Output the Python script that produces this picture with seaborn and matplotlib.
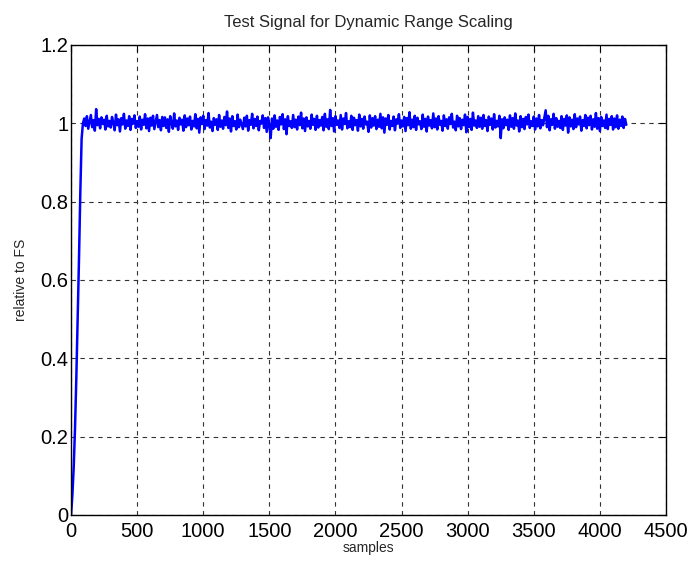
import numpy as np
import pandas as pd
import seaborn as sns
import matplotlib.pyplot as plt
from matplotlib.ticker import FormatStrFormatter

# ramp-up part of the signal (samples 0..90)
ramp_samples = [0, 10, 20, 30, 40, 50, 60, 70, 80, 90]
ramp_values = [0.0, 0.05, 0.12, 0.22, 0.35, 0.50, 0.65, 0.82, 0.96, 1.0]

# steady part, read every 10 samples from 100 to 4200
steady_values = [
    1.012, 0.993, 1.018, 0.986, 1.004, 1.021, 0.990, 1.008, 0.981, 1.036, 0.995, 1.011, 0.987, 1.015, 0.998, 1.009, 0.984, 1.019, 0.992, 1.006,
    0.989, 1.016, 1.001, 0.982, 1.022, 0.995, 1.010, 0.979, 1.013, 0.997, 1.024, 0.986, 1.007, 0.993, 1.018, 0.983, 1.011, 0.999, 1.020, 0.988,
    1.005, 0.991, 1.017, 0.984, 1.009, 0.996, 1.023, 0.987, 1.012, 0.980, 1.014, 0.994, 1.019, 0.985, 1.003, 1.021, 0.990, 1.008, 0.982, 1.016,
    0.993, 1.015, 0.988, 1.010, 0.978, 1.018, 1.001, 0.986, 1.025, 0.992, 1.007, 0.983, 1.014, 0.997, 1.009, 0.981, 1.020, 0.990, 1.012, 0.995,
    1.017, 0.984, 1.006, 0.992, 1.023, 0.987, 1.011, 0.976, 1.015, 0.998, 1.019, 0.985, 1.008, 0.994, 1.026, 0.989, 1.004, 0.980, 1.013, 0.996,
    1.010, 0.983, 1.021, 0.991, 1.007, 0.986, 1.016, 0.995, 1.030, 0.988, 1.012, 0.979, 1.018, 0.993, 1.005, 0.984, 1.022, 0.990, 1.009, 0.997,
    0.985, 1.014, 0.992, 1.019, 0.981, 1.008, 0.996, 1.024, 0.987, 1.011, 0.993, 1.017, 0.982, 1.006, 0.999, 1.020, 0.988, 1.013, 0.978, 1.015,
    0.994, 0.962, 1.012, 0.986, 1.020, 0.991, 1.007, 0.983, 1.016, 0.997, 1.023, 0.985, 1.010, 0.972, 1.018, 0.993, 1.005, 0.988, 1.021, 0.990,
    1.009, 0.984, 1.017, 0.995, 1.027, 0.987, 1.012, 0.980, 1.015, 0.992, 1.006, 0.986, 1.022, 0.996, 1.011, 0.983, 1.019, 0.989, 1.008, 0.994,
    1.016, 0.982, 1.024, 0.991, 1.010, 0.985, 1.034, 0.993, 1.013, 0.979, 1.018, 0.996, 1.007, 0.988, 1.021, 0.984, 1.012, 0.998, 1.026, 0.987,
    1.005, 0.990, 1.019, 0.983, 1.014, 0.995, 1.008, 0.981, 1.022, 0.992, 1.011, 0.986, 1.017, 0.997, 1.004, 0.978, 1.020, 0.989, 1.013, 0.994,
    1.018, 0.985, 1.009, 0.991, 1.024, 0.987, 1.015, 0.976, 1.012, 0.996, 1.021, 0.984, 1.006, 0.993, 1.017, 0.982, 1.010, 0.999, 1.023, 0.988,
    1.007, 0.992, 1.016, 0.980, 1.013, 0.995, 1.028, 0.986, 1.009, 0.990, 1.019, 0.983, 1.014, 0.997, 1.005, 0.985, 1.022, 0.991, 1.011, 0.979,
    1.017, 0.994, 1.008, 0.987, 1.025, 0.990, 1.012, 0.984, 1.018, 0.996, 1.006, 0.981, 1.020, 0.993, 1.010, 0.986, 1.015, 0.998, 1.024, 0.989,
    1.004, 0.982, 1.019, 0.992, 1.013, 0.985, 1.009, 0.995, 1.022, 0.977, 1.016, 0.990, 1.011, 0.983, 1.027, 0.994, 1.007, 0.988, 1.018, 0.991,
    1.014, 0.986, 1.021, 0.993, 1.008, 0.980, 1.017, 0.996, 1.012, 0.984, 1.023, 0.989, 1.006, 0.992, 1.019, 0.962, 1.010, 0.987, 1.015, 0.995,
    1.009, 0.983, 1.020, 0.991, 1.013, 0.986, 1.025, 0.994, 1.007, 0.979, 1.018, 0.990, 1.011, 0.985, 1.016, 0.997, 1.022, 0.988, 1.005, 0.993,
    1.017, 0.984, 1.012, 0.992, 1.021, 0.987, 1.008, 0.995, 1.014, 1.033, 0.990, 1.019, 0.982, 1.010, 0.996, 1.024, 0.986, 1.013, 0.991, 1.006,
    0.988, 1.018, 0.983, 1.011, 0.994, 1.020, 0.976, 1.015, 0.992, 1.009, 0.985, 1.023, 0.990, 1.012, 0.997, 1.017, 0.981, 1.008, 0.993, 1.021,
    0.987, 1.014, 0.995, 1.019, 0.984, 1.010, 0.991, 1.026, 0.986, 1.013, 0.980, 1.016, 0.993, 1.007, 0.988, 1.022, 0.985, 1.011, 0.996, 1.018,
    0.984, 1.012, 0.990, 1.020, 0.986, 1.009, 0.993, 1.017, 0.988, 1.011, 0.996,
]
steady_samples = list(range(100, 4201, 10))

x_ticks = [0, 500, 1000, 1500, 2000, 2500, 3000, 3500, 4000, 4500]
y_ticks = [0, 0.2, 0.4, 0.6, 0.8, 1.0, 1.2]

df = pd.DataFrame({
    "samples": ramp_samples + steady_samples,
    "value": ramp_values + steady_values,
})

sns.set_style("white")
plt.rcParams["font.family"] = ["Liberation Sans", "DejaVu Sans"]

fig = plt.figure(figsize=(6.93, 5.61), dpi=100)
ax = fig.add_axes([0.1025, 0.082, 0.8585, 0.838])

sns.lineplot(data=df, x="samples", y="value", ax=ax, color="#0000ff",
             linewidth=1.8, estimator=None, sort=False)

ax.set_xlim(0, 4500)
ax.set_ylim(0, 1.2)
ax.set_xticks(x_ticks)
ax.set_yticks(y_ticks)
ax.yaxis.set_major_formatter(FormatStrFormatter("%g"))
ax.grid(True, color="0.2", linestyle=(0, (4, 4)), linewidth=0.8)
ax.set_axisbelow(True)

for s in ax.spines.values():
    s.set_visible(True)
    s.set_color("black")
    s.set_linewidth(1.0)
ax.tick_params(direction="in", length=5, width=0.8, top=True, right=True,
               labelsize=14.5, colors="black", pad=2)
ax.tick_params(axis="x", pad=5)

ax.set_title("Test Signal for Dynamic Range Scaling", fontsize=12, pad=13)
ax.set_xlabel("samples", fontsize=10, labelpad=0)
ax.set_ylabel("relative to FS", fontsize=10, labelpad=9)

fig.savefig("out.png", dpi=100)
